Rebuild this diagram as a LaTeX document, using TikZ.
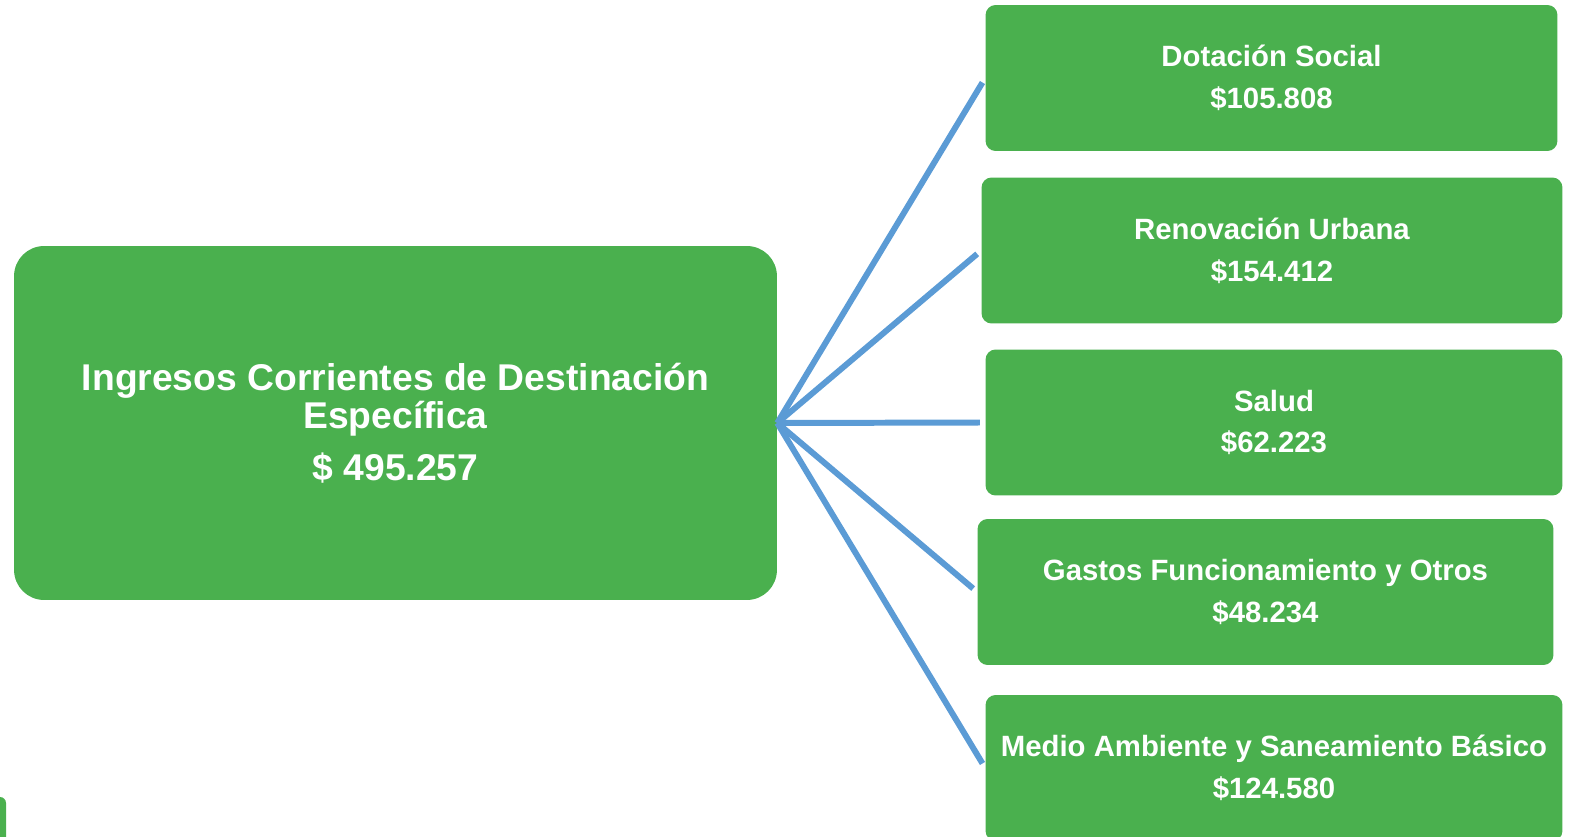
\documentclass[tikz,border=0pt]{standalone}
\usepackage{fontspec}
\setmainfont{Liberation Sans}
\definecolor{boxgreen}{HTML}{4AB04E}
\definecolor{linkblue}{HTML}{5B9BD5}
\begin{document}
\begin{tikzpicture}[x=0.02cm,y=-0.02cm,
  bigbox/.style={fill=boxgreen,draw=none,rounded corners=0.6cm,text=white,align=center,
    font=\bfseries\fontsize{21.2}{21.5}\selectfont,inner sep=0pt},
  smallbox/.style={fill=boxgreen,draw=none,rounded corners=0.2cm,text=white,align=center,
    font=\bfseries\fontsize{16.7}{23.8}\selectfont,inner sep=0pt,minimum height=2.92cm},
  link/.style={draw=linkblue,line width=3.4pt,shorten >=3pt}]
\useasboundingbox (0,0) rectangle (1570,837);
\fill[boxgreen,rounded corners=0.12cm] (-20,797) rectangle (6,860);
\node[bigbox,minimum width=15.26cm,minimum height=7.08cm] (big) at (395.5,423)
  {Ingresos Corrientes de Destinación\\Específica\\[8pt]\$ 495.257};
\node[smallbox,minimum width=11.44cm] (b1) at (1271.5,78) {Dotación Social\\\$105.808};
\node[smallbox,minimum width=11.62cm] (b2) at (1272,250.5) {Renovación Urbana\\\$154.412};
\node[smallbox,minimum width=11.54cm] (b3) at (1274,422.5) {Salud\\\$62.223};
\node[smallbox,minimum width=11.52cm] (b4) at (1265.5,592) {Gastos Funcionamiento y Otros\\\$48.234};
\node[smallbox,minimum width=11.54cm] (b5) at (1274,768) {Medio Ambiente y Saneamiento Básico\\\$124.580};
\draw[link] (big.east) -- (b1.west);
\draw[link] (big.east) -- (b2.west);
\draw[link] (big.east) -- (b3.west);
\draw[link] (big.east) -- (b4.west);
\draw[link] (big.east) -- (b5.west);
\end{tikzpicture}
\end{document}
